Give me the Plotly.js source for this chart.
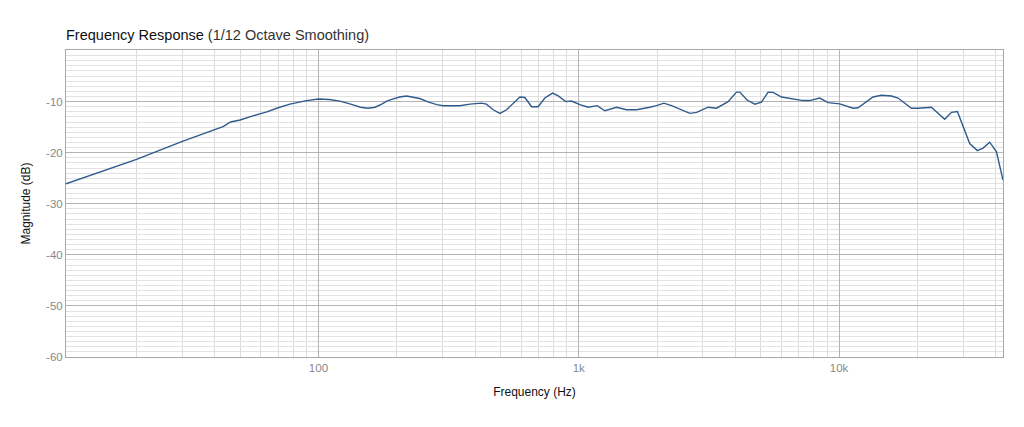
<!DOCTYPE html>
<html>
<head>
<meta charset="utf-8">
<script src="https://cdn.plot.ly/plotly-3.0.1.min.js"></script>
<style>
  html, body { margin: 0; padding: 0; background: #fff; }
  #chart { width: 1024px; height: 427px; }
</style>
</head>
<body>
<div id="chart"></div>
<script>
// frequency (Hz) and magnitude (dB)
const freqHz = [
  10.72, 15, 20, 30, 40, 43, 46, 50, 56, 63.4, 70, 77.7, 90, 100,
  110, 121, 135, 145, 155, 165, 175, 183, 190, 205, 218, 232, 245, 265,
  285, 301, 325, 349, 382, 423, 442, 469, 498, 528, 594, 621, 659, 698,
  741, 793, 834, 892, 938, 1010, 1087, 1177, 1260, 1397, 1526, 1667, 1875,
  1990, 2123, 2272, 2672, 2835, 3141, 3382, 3748, 4036, 4156, 4433, 4746,
  5035, 5339, 5580, 6009, 6373, 7274, 7718, 8432, 9073, 10063, 11320,
  11830, 13510, 14550, 15900, 16850, 18970, 20110, 22640, 25460, 27020,
  28490, 31760, 34000, 35730, 37900, 40220, 42640
];
const magnitudeDb = [
  -26.1, -23.5, -21.3, -17.8, -15.4, -14.9, -14.0, -13.6, -12.8, -12.0, -11.2, -10.5, -9.8, -9.5,
  -9.6, -9.9, -10.6, -11.1, -11.3, -11.1, -10.5, -9.9, -9.6, -9.1, -8.9, -9.1, -9.4, -10.1,
  -10.6, -10.8, -10.8, -10.8, -10.5, -10.3, -10.5, -11.6, -12.3, -11.6, -9.1, -9.2, -11.0, -11.0,
  -9.3, -8.35, -8.9, -10.0, -9.9, -10.6, -11.1, -10.8, -11.8, -11.1, -11.6, -11.6, -11.1,
  -10.8, -10.3, -10.8, -12.3, -12.1, -11.1, -11.3, -10.0, -8.15, -8.15, -9.7, -10.5,
  -10.1, -8.15, -8.2, -9.1, -9.3, -9.8, -9.8, -9.3, -10.2, -10.45, -11.3,
  -11.2, -9.1, -8.75, -8.9, -9.3, -11.3, -11.3, -11.1, -13.45, -12.1,
  -11.95, -18.2, -19.6, -19.1, -17.95, -19.8, -25.35
];

const xTickVals = [100, 1000, 10000];
const xTickText = ["100", "1k", "10k"];
const yTickVals = [-60, -50, -40, -30, -20, -10];
const yTickText = ["-60", "-50", "-40", "-30", "-20", "-10"];

// minor grid at 2..9 of every decade
const decades = [10, 100, 1000, 10000];
const digits = [2, 3, 4, 5, 6, 7, 8, 9];
const xMinorVals = [];
decades.forEach((d) => digits.forEach((k) => xMinorVals.push(d * k)));

const font = "Liberation Sans, Arial, Helvetica, sans-serif";

const data = [
  {
    x: freqHz,
    y: magnitudeDb,
    type: "scatter",
    mode: "lines",
    line: { color: "#2f5b8c", width: 1.4 },
    hoverinfo: "x+y",
  },
];

const layout = {
  width: 1024,
  height: 427,
  margin: { t: 50, l: 66, r: 21, b: 70 },
  paper_bgcolor: "#fff",
  plot_bgcolor: "#fff",
  showlegend: false,
  font: { family: font, size: 12, color: "#888" },
  title: {
    text: "<span style='color:#111'>Frequency Response</span> <span style='color:#333'>(1/12 Octave Smoothing)</span>",
    font: { family: font, size: 14.5, color: "#222" },
    x: 0,
    xref: "paper",
    xanchor: "left",
    y: 0.918,
    yref: "container",
    yanchor: "middle",
  },
  xaxis: {
    type: "log",
    range: [Math.log10(10.72), Math.log10(42640)],
    tickmode: "array",
    tickvals: xTickVals,
    ticktext: xTickText,
    ticks: "",
    showgrid: true,
    gridcolor: "#b4b4b4",
    gridwidth: 1,
    showline: true,
    mirror: true,
    linecolor: "#a8a8a8",
    linewidth: 1,
    zeroline: false,
    tickfont: { family: font, size: 11.5, color: "#888" },
    minor: {
      tickmode: "array",
      tickvals: xMinorVals,
      showgrid: true,
      gridcolor: "#dcdcdc",
      gridwidth: 1,
      ticks: "",
    },
    title: {
      text: "Frequency (Hz)",
      font: { family: font, size: 12, color: "#111" },
      standoff: 14,
    },
  },
  yaxis: {
    range: [-60, 0.1],
    tickmode: "array",
    tickvals: yTickVals,
    ticktext: yTickText,
    ticks: "",
    showgrid: true,
    gridcolor: "#b4b4b4",
    gridwidth: 1,
    showline: true,
    mirror: true,
    linecolor: "#a8a8a8",
    linewidth: 1,
    zeroline: false,
    tickfont: { family: font, size: 11.5, color: "#888" },
    minor: {
      dtick: 1,
      showgrid: true,
      gridcolor: "#e2e2e2",
      gridwidth: 1,
      ticks: "",
    },
    title: {
      text: "Magnitude (dB)",
      font: { family: font, size: 12, color: "#111" },
      standoff: 12,
    },
  },
};

Plotly.newPlot("chart", data, layout, { displayModeBar: false, responsive: false });
</script>
</body>
</html>
